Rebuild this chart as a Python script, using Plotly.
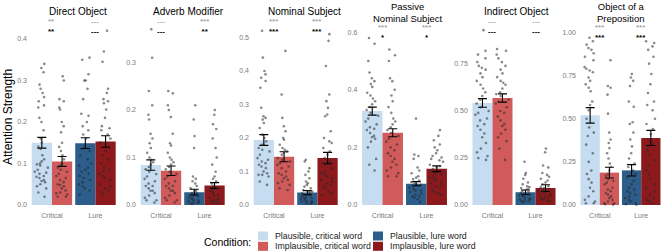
import plotly.graph_objects as go

W, H = 668, 251

# ---------------- data ----------------
categories = ["Critical", "Lure"]
panel_titles = ["Direct Object", "Adverb Modifier", "Nominal Subject",
                "Passive<br>Nominal Subject", "Indirect Object", "Object of a<br>Preposition"]
condition_labels = ["Plausible, critical word", "Implausible, critical word",
                    "Plausible, lure word", "Implausible, lure word"]

# order in each panel: [plausible critical, implausible critical, plausible lure, implausible lure]
means_direct_object = [0.150, 0.105, 0.149, 0.153]
errs_direct_object = [0.013, 0.012, 0.013, 0.014]
means_adverb_modifier = [0.084, 0.072, 0.027, 0.041]
errs_adverb_modifier = [0.011, 0.010, 0.006, 0.006]
means_nominal_subject = [0.194, 0.144, 0.037, 0.140]
errs_nominal_subject = [0.016, 0.015, 0.006, 0.017]
means_passive_subject = [0.326, 0.251, 0.074, 0.126]
errs_passive_subject = [0.014, 0.014, 0.007, 0.010]
means_indirect_object = [0.543, 0.569, 0.068, 0.090]
errs_indirect_object = [0.023, 0.022, 0.012, 0.018]
means_prep_object = [0.520, 0.188, 0.201, 0.389]
errs_prep_object = [0.045, 0.031, 0.033, 0.044]

# significance labels: (grey row, black row) for Critical and Lure
stars_direct_object = [("**", "**"), ("---", "---")]
stars_adverb_modifier = [("---", "---"), ("***", "**")]
stars_nominal_subject = [("***", "***"), ("***", "***")]
stars_passive_subject = [("***", "*"), ("***", "*")]
stars_indirect_object = [("---", "---"), ("---", "---")]
stars_prep_object = [("***", "***"), ("***", "***")]

# individual items (jittered points)
pts_direct_object = [
    [0.34, 0.33, 0.32, 0.29, 0.28, 0.27, 0.26, 0.25, 0.24, 0.235, 0.21, 0.2, 0.18, 0.16, 0.15, 0.14, 0.135, 0.12, 0.11,
     0.105, 0.1, 0.098, 0.095, 0.09, 0.085, 0.08, 0.078, 0.075, 0.07, 0.068, 0.065, 0.06, 0.058, 0.055, 0.05, 0.045,
     0.04, 0.03, 0.02],
    [0.31, 0.3, 0.255, 0.25, 0.235, 0.23, 0.2, 0.19, 0.175, 0.15, 0.14, 0.13, 0.12, 0.11, 0.1, 0.095, 0.09, 0.085, 0.08,
     0.075, 0.07, 0.065, 0.06, 0.055, 0.05, 0.048, 0.045, 0.04, 0.035, 0.03, 0.028, 0.025, 0.02, 0.02],
    [0.35, 0.355, 0.315, 0.3, 0.3, 0.28, 0.255, 0.22, 0.215, 0.2, 0.19, 0.18, 0.17, 0.16, 0.14, 0.135, 0.13, 0.12, 0.11,
     0.1, 0.095, 0.09, 0.085, 0.08, 0.075, 0.07, 0.065, 0.06, 0.055, 0.05, 0.045, 0.04, 0.035, 0.025],
    [0.42, 0.37, 0.345, 0.28, 0.27, 0.255, 0.25, 0.245, 0.23, 0.21, 0.19, 0.185, 0.18, 0.17, 0.16, 0.15, 0.14, 0.13,
     0.12, 0.11, 0.1, 0.09, 0.085, 0.08, 0.075, 0.07, 0.065, 0.06, 0.05, 0.045, 0.04, 0.035, 0.03, 0.025],
]
pts_adverb_modifier = [
    [0.37, 0.31, 0.24, 0.21, 0.19, 0.18, 0.15, 0.14, 0.13, 0.12, 0.11, 0.1, 0.095, 0.09, 0.085, 0.08, 0.075, 0.07,
     0.065, 0.06, 0.055, 0.05, 0.045, 0.04, 0.04, 0.035, 0.03, 0.03, 0.025, 0.02, 0.015, 0.01, 0.01, 0.005],
    [0.24, 0.235, 0.21, 0.2, 0.185, 0.15, 0.13, 0.125, 0.11, 0.1, 0.095, 0.09, 0.085, 0.08, 0.075, 0.07, 0.065, 0.06,
     0.055, 0.05, 0.045, 0.04, 0.04, 0.035, 0.03, 0.03, 0.025, 0.02, 0.015, 0.01, 0.01, 0.005],
    [0.21, 0.18, 0.145, 0.12, 0.06, 0.055, 0.05, 0.045, 0.04, 0.035, 0.03, 0.03, 0.025, 0.025, 0.02, 0.02, 0.018,
     0.015, 0.015, 0.012, 0.01, 0.01, 0.008, 0.006, 0.005, 0.004, 0.003, 0.002],
    [0.2, 0.19, 0.17, 0.16, 0.14, 0.12, 0.1, 0.085, 0.07, 0.06, 0.055, 0.05, 0.045, 0.04, 0.035, 0.03, 0.03, 0.025,
     0.02, 0.02, 0.015, 0.012, 0.01, 0.01, 0.008, 0.005, 0.004, 0.003],
]
pts_nominal_subject = [
    [0.52, 0.44, 0.4, 0.39, 0.38, 0.37, 0.35, 0.29, 0.265, 0.26, 0.255, 0.245, 0.23, 0.21, 0.2, 0.19, 0.18, 0.18,
     0.17, 0.165, 0.16, 0.15, 0.14, 0.135, 0.13, 0.125, 0.12, 0.115, 0.11, 0.1, 0.095, 0.09, 0.09, 0.085, 0.07, 0.06],
    [0.46, 0.33, 0.26, 0.235, 0.22, 0.2, 0.195, 0.18, 0.17, 0.165, 0.16, 0.155, 0.15, 0.14, 0.135, 0.13, 0.125, 0.12,
     0.115, 0.11, 0.1, 0.095, 0.09, 0.085, 0.08, 0.075, 0.07, 0.065, 0.06, 0.05, 0.045],
    [0.135, 0.13, 0.11, 0.1, 0.09, 0.08, 0.07, 0.065, 0.06, 0.055, 0.05, 0.045, 0.04, 0.04, 0.035, 0.035, 0.03, 0.03,
     0.028, 0.025, 0.022, 0.02, 0.02, 0.018, 0.015, 0.012, 0.01, 0.01, 0.008, 0.005, 0.004],
    [0.51, 0.49, 0.415, 0.33, 0.31, 0.29, 0.27, 0.265, 0.22, 0.2, 0.19, 0.185, 0.17, 0.16, 0.15, 0.14, 0.13, 0.125,
     0.12, 0.11, 0.1, 0.095, 0.09, 0.085, 0.08, 0.075, 0.07, 0.065, 0.06, 0.055, 0.05, 0.04, 0.035, 0.03],
]
pts_passive_subject = [
    [0.58, 0.56, 0.5, 0.46, 0.44, 0.43, 0.42, 0.41, 0.39, 0.38, 0.37, 0.36, 0.35, 0.34, 0.33, 0.32, 0.31, 0.3, 0.29,
     0.28, 0.27, 0.265, 0.26, 0.25, 0.24, 0.235, 0.23, 0.22, 0.2, 0.16, 0.14, 0.12],
    [0.54, 0.52, 0.5, 0.44, 0.43, 0.4, 0.38, 0.36, 0.34, 0.32, 0.3, 0.29, 0.28, 0.27, 0.26, 0.25, 0.24, 0.23, 0.22,
     0.21, 0.2, 0.19, 0.18, 0.17, 0.16, 0.15, 0.14, 0.13, 0.12, 0.11, 0.1, 0.1],
    [0.3, 0.175, 0.17, 0.16, 0.13, 0.12, 0.11, 0.1, 0.095, 0.09, 0.085, 0.08, 0.075, 0.07, 0.065, 0.06, 0.055, 0.05,
     0.05, 0.045, 0.04, 0.035, 0.03, 0.03, 0.025, 0.02, 0.01],
    [0.26, 0.24, 0.225, 0.21, 0.2, 0.19, 0.18, 0.17, 0.165, 0.16, 0.155, 0.15, 0.14, 0.135, 0.13, 0.125, 0.12, 0.115,
     0.11, 0.105, 0.1, 0.095, 0.09, 0.085, 0.08, 0.075, 0.07, 0.065, 0.06, 0.05, 0.045, 0.04, 0.035],
]
pts_indirect_object = [
    [0.93, 0.82, 0.8, 0.78, 0.76, 0.74, 0.73, 0.72, 0.7, 0.68, 0.66, 0.64, 0.62, 0.6, 0.58, 0.56, 0.54, 0.52, 0.5,
     0.49, 0.48, 0.46, 0.45, 0.43, 0.42, 0.4, 0.38, 0.36, 0.33, 0.3, 0.28, 0.26, 0.25, 0.24],
    [0.83, 0.82, 0.8, 0.78, 0.76, 0.74, 0.72, 0.7, 0.68, 0.66, 0.65, 0.64, 0.62, 0.6, 0.59, 0.58, 0.56, 0.55, 0.54,
     0.52, 0.5, 0.49, 0.47, 0.45, 0.43, 0.42, 0.4, 0.38, 0.36, 0.34, 0.3, 0.24],
    [0.23, 0.17, 0.16, 0.14, 0.12, 0.11, 0.1, 0.095, 0.09, 0.085, 0.08, 0.075, 0.07, 0.065, 0.06, 0.055, 0.05, 0.05,
     0.045, 0.04, 0.035, 0.03, 0.03, 0.025, 0.02, 0.02, 0.015],
    [0.3, 0.28, 0.21, 0.2, 0.17, 0.16, 0.15, 0.14, 0.13, 0.12, 0.11, 0.1, 0.095, 0.09, 0.085, 0.08, 0.075, 0.07,
     0.065, 0.06, 0.055, 0.05, 0.045, 0.04, 0.035, 0.03, 0.025, 0.02],
]
pts_prep_object = [
    [0.97, 0.95, 0.93, 0.91, 0.9, 0.88, 0.86, 0.84, 0.8, 0.79, 0.78, 0.77, 0.74, 0.72, 0.7, 0.68, 0.66, 0.6, 0.58,
     0.55, 0.5, 0.45, 0.42, 0.4, 0.35, 0.3, 0.25, 0.2, 0.18, 0.15, 0.13, 0.1, 0.08, 0.05, 0.03, 0.02, 0.01, 0.01],
    [0.84, 0.69, 0.68, 0.64, 0.53, 0.42, 0.38, 0.36, 0.33, 0.3, 0.27, 0.24, 0.22, 0.2, 0.18, 0.17, 0.15, 0.14, 0.13,
     0.12, 0.1, 0.09, 0.08, 0.07, 0.06, 0.05, 0.04, 0.03, 0.02, 0.01, 0.01, 0.005, 0.002],
    [0.76, 0.74, 0.72, 0.69, 0.6, 0.57, 0.48, 0.47, 0.42, 0.38, 0.34, 0.3, 0.27, 0.24, 0.22, 0.2, 0.18, 0.16, 0.14,
     0.12, 0.1, 0.09, 0.08, 0.07, 0.06, 0.05, 0.04, 0.03, 0.02, 0.01, 0.005, 0.002],
    [0.95, 0.94, 0.92, 0.9, 0.86, 0.82, 0.76, 0.7, 0.65, 0.6, 0.58, 0.55, 0.5, 0.47, 0.44, 0.41, 0.38, 0.35, 0.32,
     0.29, 0.26, 0.23, 0.2, 0.18, 0.15, 0.12, 0.1, 0.08, 0.06, 0.04, 0.03, 0.02, 0.01],
]

ytick_vals = [
    [0.0, 0.1, 0.2, 0.3, 0.4],
    [0.0, 0.1, 0.2, 0.3],
    [0.0, 0.1, 0.2, 0.3, 0.4, 0.5],
    [0.0, 0.2, 0.4, 0.6],
    [0.0, 0.25, 0.5, 0.75],
    [0.0, 0.25, 0.5, 0.75, 1.0],
]
ytick_fmt = [".1f", ".1f", ".1f", ".1f", ".2f", ".2f"]

panel_means = [means_direct_object, means_adverb_modifier, means_nominal_subject,
               means_passive_subject, means_indirect_object, means_prep_object]
panel_errs = [errs_direct_object, errs_adverb_modifier, errs_nominal_subject,
              errs_passive_subject, errs_indirect_object, errs_prep_object]
panel_pts = [pts_direct_object, pts_adverb_modifier, pts_nominal_subject,
             pts_passive_subject, pts_indirect_object, pts_prep_object]
panel_stars = [stars_direct_object, stars_adverb_modifier, stars_nominal_subject,
               stars_passive_subject, stars_indirect_object, stars_prep_object]

# ---------------- style / layout ----------------
colors = ["#c6ddf1", "#d15b5b", "#2c5d8b", "#8c1a1c"]  # PC, IC, PL, IL
FONT = "Liberation Sans, Arial, Helvetica, sans-serif"
TICK_GREY = "#7a7a7a"
PT_COLOR = "rgba(40,40,40,0.55)"

panel_px = [(28, 119.4), (137, 228.4), (250, 341.4), (358.3, 450.7), (468.8, 559.2), (577, 664)]
y_upper = [0.4265, 0.3726, 0.5284, 0.6146, 0.9415, 1.0267]
title_x_px = [78, 188, 304, 408, 516, 621]
plot_top_px, plot_bot_px = 28, 210


def px_x(v):
    return v / W


def px_y(v):
    return 1 - v / H


fig = go.Figure()
layout_axes = {}
annotations = []

for i in range(6):
    ax = "" if i == 0 else str(i + 1)
    xa, ya = "x" + ax, "y" + ax
    means, errs = panel_means[i], panel_errs[i]
    for g, (a, b) in enumerate([(0, 2), (1, 3)]):
        fig.add_trace(go.Bar(
            x=categories, y=[means[a], means[b]], xaxis=xa, yaxis=ya,
            alignmentgroup="bar%d" % i, offsetgroup="g%d" % g,
            marker=dict(color=[colors[a], colors[b]], line=dict(width=0)),
            error_y=dict(type="data", array=[errs[a], errs[b]], color="black", thickness=1.1, width=4.5),
            showlegend=False, hoverinfo="skip"))

for i in range(6):
    ax = "" if i == 0 else str(i + 1)
    xa, ya = "x" + ax, "y" + ax
    pts = panel_pts[i]
    for g, (a, b) in enumerate([(0, 2), (1, 3)]):
        xs = [categories[0]] * len(pts[a]) + [categories[1]] * len(pts[b])
        ys = pts[a] + pts[b]
        fig.add_trace(go.Box(
            x=xs, y=ys, xaxis=xa, yaxis=ya, boxpoints="all", jitter=0.72, pointpos=0,
            alignmentgroup="box%d" % i, offsetgroup="g%d" % g,
            fillcolor="rgba(0,0,0,0)", line=dict(width=0, color="rgba(0,0,0,0)"),
            marker=dict(size=2.6, color=PT_COLOR), showlegend=False, hoverinfo="skip"))

for i in range(6):
    ax = "" if i == 0 else str(i + 1)
    x0, x1 = panel_px[i]
    top = y_upper[i]
    lo = -top * 5 / 177
    layout_axes["xaxis" + ax] = dict(
        domain=[px_x(x0), px_x(x1)], anchor="y" + ax, type="category",
        range=[-0.55, 1.55], showgrid=False, zeroline=False, showline=False,
        ticks="", tickfont=dict(size=7, color=TICK_GREY, family=FONT), fixedrange=True)
    layout_axes["yaxis" + ax] = dict(
        domain=[px_y(plot_bot_px), px_y(plot_top_px)], anchor="x" + ax,
        range=[lo, top], showgrid=False, zeroline=False, showline=False, ticks="",
        tickvals=ytick_vals[i], ticktext=[format(v, ytick_fmt[i]) for v in ytick_vals[i]],
        tickfont=dict(size=7, color=TICK_GREY, family=FONT), fixedrange=True)

    two_line = "<br>" in panel_titles[i]
    annotations.append(dict(
        text=panel_titles[i], xref="paper", yref="paper", x=px_x(title_x_px[i]),
        y=px_y(12.5 if two_line else 12), xanchor="center", yanchor="middle", showarrow=False,
        font=dict(size=9.5 if two_line else 10, color="black", family=FONT)))
    sy = 32 if two_line else 26
    for c in range(2):
        grey_txt, black_txt = panel_stars[i][c]
        annotations.append(dict(
            text='<span style="color:#8c8c8c">%s</span><br><b>%s</b>' % (grey_txt, black_txt),
            xref="x" + ax, yref="paper", x=c, y=px_y(sy),
            xanchor="center", yanchor="middle", showarrow=False,
            font=dict(size=8, color="black", family=FONT)))

# y-axis title
annotations.append(dict(
    text="Attention Strength", xref="paper", yref="paper", x=px_x(8), y=px_y(117),
    xanchor="center", yanchor="middle", textangle=-90, showarrow=False,
    font=dict(size=12, color="black", family=FONT)))

# legend (manual)
shapes = []
annotations.append(dict(
    text="Condition:", xref="paper", yref="paper", x=px_x(253), y=px_y(241.5),
    xanchor="right", yanchor="middle", showarrow=False,
    font=dict(size=10.5, color="black", family=FONT)))
key_pos = [(258, 231.5), (258, 241.8), (373, 231.5), (373, 241.8)]
for k in range(4):
    kx, ky = key_pos[k]
    shapes.append(dict(type="rect", xref="paper", yref="paper",
                       x0=px_x(kx), x1=px_x(kx + 10), y0=px_y(ky + 9), y1=px_y(ky),
                       fillcolor=colors[k], line=dict(width=0)))
    annotations.append(dict(
        text=condition_labels[k], xref="paper", yref="paper", x=px_x(kx + 15), y=px_y(ky + 4.5),
        xanchor="left", yanchor="middle", showarrow=False,
        font=dict(size=8.8, color="#1a1a1a", family=FONT)))

fig.update_layout(
    width=W, height=H, margin=dict(l=0, r=0, t=0, b=0),
    paper_bgcolor="white", plot_bgcolor="white",
    barmode="group", bargap=0.07, bargroupgap=0.0,
    boxmode="group", boxgap=0.07, boxgroupgap=0.0,
    annotations=annotations, shapes=shapes, showlegend=False,
    font=dict(family=FONT),
    **layout_axes)

fig.write_html("out.html")
